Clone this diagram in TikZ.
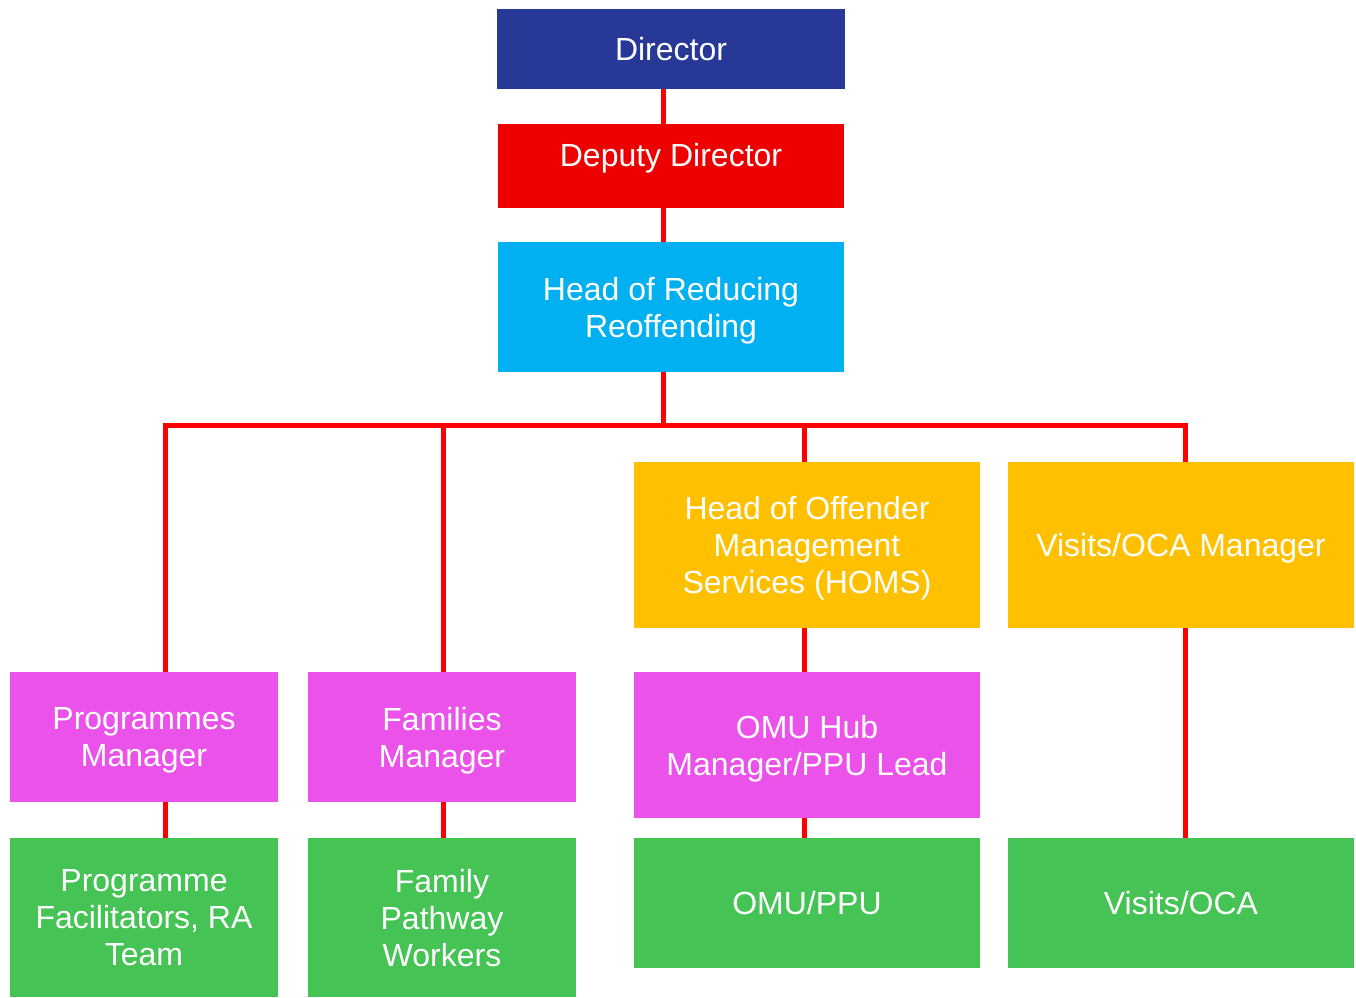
\documentclass[tikz,border=0pt]{standalone}
\usepackage{fontspec}
\setmainfont{Liberation Sans}
\definecolor{dirblue}{RGB}{40,56,150}
\definecolor{depred}{RGB}{238,0,0}
\definecolor{hrrcyan}{RGB}{0,176,240}
\definecolor{amber}{RGB}{255,192,0}
\definecolor{magent}{RGB}{234,82,233}
\definecolor{grn}{RGB}{69,196,85}
\definecolor{linkred}{RGB}{255,0,0}
\begin{document}
\begin{tikzpicture}[x=0.75pt,y=-0.75pt,
  box/.style={rectangle, inner sep=0pt, outer sep=0pt, align=center, text=white,
    text depth=0pt, font=\fontsize{24}{27.75}\selectfont},
  wide/.style={minimum width=259.5pt},
  narrow/.style={minimum width=201pt},
  link/.style={draw=linkred, line width=3.75pt}]
\useasboundingbox (0,0) rectangle (1356,998);
\node[box, fill=dirblue, minimum width=261pt, minimum height=60pt] (dir) at (671,49) {Director};
\node[box, wide, fill=depred, minimum height=63pt, text depth=16pt] (dep) at (671,166) {Deputy Director};
\node[box, wide, fill=hrrcyan, minimum height=97.5pt] (hrr) at (671,307) {Head of Reducing\\Reoffending};
\node[box, narrow, fill=magent, minimum height=97.5pt] (pm) at (144,737) {Programmes\\Manager};
\node[box, narrow, fill=magent, minimum height=97.5pt] (fm) at (442,737) {Families\\Manager};
\node[box, wide, fill=amber, minimum height=124.5pt] (homs) at (807,545) {Head of Offender\\Management\\Services (HOMS)};
\node[box, wide, fill=amber, minimum height=124.5pt] (vism) at (1181,545) {Visits/OCA Manager};
\node[box, wide, fill=magent, minimum height=109.5pt] (omuh) at (807,745) {OMU Hub\\Manager/PPU Lead};
\node[box, narrow, fill=grn, minimum height=119.25pt] (pf) at (144,917.5) {Programme\\Facilitators, RA\\Team};
\node[box, narrow, fill=grn, minimum height=119.25pt] (fpw) at (442,917.5) {Family\\Pathway\\Workers};
\node[box, wide, fill=grn, minimum height=97.5pt] (omu) at (807,903) {OMU/PPU};
\node[box, wide, fill=grn, minimum height=97.5pt] (vis) at (1181,903) {Visits/OCA};
\coordinate (bus) at (663,425);
\coordinate (busL) at (165,425);
\coordinate (busR) at (1185,425);
\draw[link] ([xshift=-6]dir.south) -- ([xshift=-6]dep.north);
\draw[link] ([xshift=-6]dep.south) -- ([xshift=-6]hrr.north);
\draw[link] ([xshift=-6]hrr.south) -- (bus);
\draw[link, line cap=rect] (busL) -- (busR);
\draw[link] (busL) -- (busL |- pm.north);
\draw[link] ([xshift=1]fm.north |- bus) -- ([xshift=1]fm.north);
\draw[link] ([xshift=-2]homs.north |- bus) -- ([xshift=-2]homs.north);
\draw[link] (busR) -- (busR |- vism.north);
\draw[link] (busL |- pm.south) -- (busL |- pf.north);
\draw[link] ([xshift=1]fm.south) -- ([xshift=1]fpw.north);
\draw[link] ([xshift=-2]homs.south) -- ([xshift=-2]omuh.north);
\draw[link] ([xshift=-2]omuh.south) -- ([xshift=-2]omu.north);
\draw[link] (busR |- vism.south) -- (busR |- vis.north);
\end{tikzpicture}
\end{document}
